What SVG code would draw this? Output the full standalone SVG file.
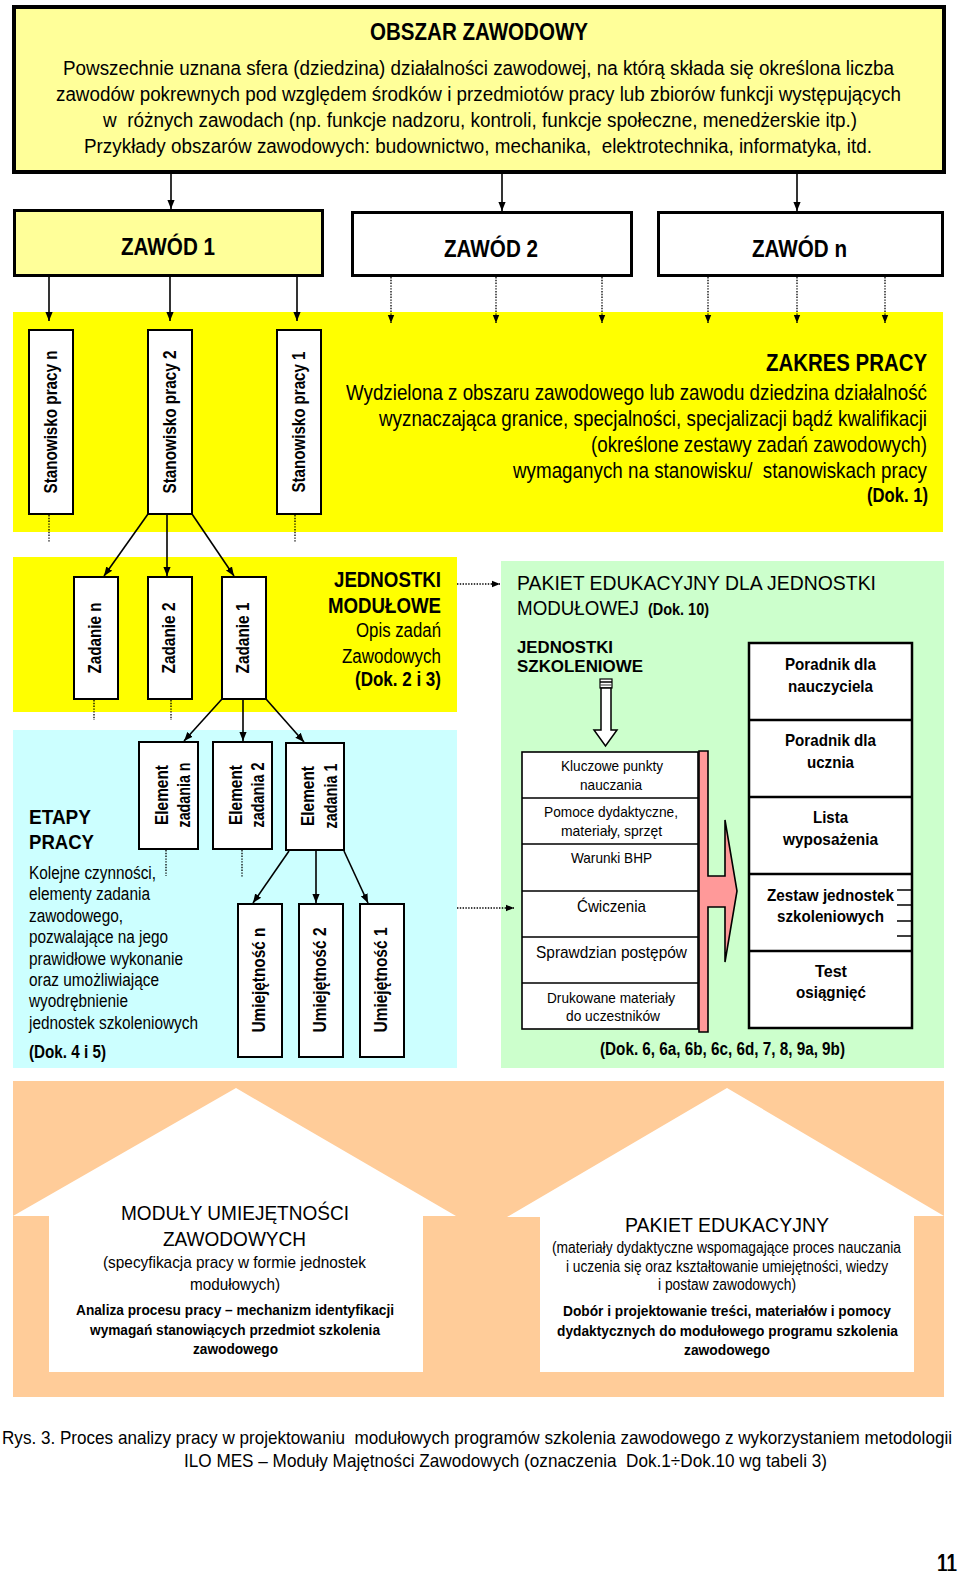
<svg xmlns="http://www.w3.org/2000/svg" width="960" height="1571" viewBox="0 0 960 1571">
<defs>
<style>
text{fill:#000;font-family:'Liberation Sans Narrow','Liberation Sans',Arial,sans-serif}
.r{font-family:'Liberation Sans',Arial,sans-serif}
.b{font-weight:bold}
.bx{fill:#fff;stroke:#000;stroke-width:2}
.ln{stroke:#000;stroke-width:1.6;fill:none}
.dt{stroke:#000;stroke-width:1.3;stroke-dasharray:1.4 1.4;fill:none}
.rot{font-weight:bold;font-size:19px;text-anchor:middle}
</style>
<marker id="ah" viewBox="0 0 10 10" refX="10" refY="5" markerWidth="9" markerHeight="9" markerUnits="userSpaceOnUse" orient="auto"><path d="M0,1 L10,5 L0,9 Z" fill="#000"/></marker>
<marker id="ahs" viewBox="0 0 10 10" refX="10" refY="5" markerWidth="8" markerHeight="8" markerUnits="userSpaceOnUse" orient="auto"><path d="M0,1 L10,5 L0,9 Z" fill="#000"/></marker>
</defs>
<rect width="960" height="1571" fill="#fff"/>

<g id="bands">
<rect x="13" y="312" width="930" height="220" fill="#FFFF00"/>
<rect x="13" y="557" width="444" height="155" fill="#FFFF00"/>
<rect x="13" y="730" width="444" height="338" fill="#CCFFFF"/>
<rect x="501" y="561" width="443" height="507" fill="#CCFFCC"/>
<rect x="13" y="1081" width="931" height="316" fill="#FFCC99"/>
</g>

<g id="obszar">
<rect x="14" y="7" width="930" height="165" fill="#FFFF99" stroke="#000" stroke-width="4"/>
<text class="b" x="370" y="40" font-size="23" textLength="218" lengthAdjust="spacingAndGlyphs">OBSZAR ZAWODOWY</text>
<text x="63" y="75" font-size="20" textLength="831" lengthAdjust="spacingAndGlyphs">Powszechnie uznana sfera (dziedzina) działalności zawodowej, na którą składa się określona liczba</text>
<text x="56" y="101" font-size="20" textLength="845" lengthAdjust="spacingAndGlyphs">zawodów pokrewnych pod względem środków i przedmiotów pracy lub zbiorów funkcji występujących</text>
<text x="103" y="127" font-size="20" textLength="754" lengthAdjust="spacingAndGlyphs" xml:space="preserve">w  różnych zawodach (np. funkcje nadzoru, kontroli, funkcje społeczne, menedżerskie itp.)</text>
<text x="84" y="153" font-size="20" textLength="788" lengthAdjust="spacingAndGlyphs" xml:space="preserve">Przykłady obszarów zawodowych: budownictwo, mechanika,  elektrotechnika, informatyka, itd.</text>
</g>

<g id="zawod1">
<rect x="14.5" y="210.5" width="308" height="65" fill="#FFFF99" stroke="#000" stroke-width="3"/>
<text class="b" x="121" y="255" font-size="23" textLength="94" lengthAdjust="spacingAndGlyphs">ZAWÓD 1</text>
</g>
<g id="zawod2">
<rect x="352.5" y="212.5" width="279" height="63" fill="#fff" stroke="#000" stroke-width="3"/>
<text class="b" x="444" y="257" font-size="23" textLength="94" lengthAdjust="spacingAndGlyphs">ZAWÓD 2</text>
</g>
<g id="zawodn">
<rect x="658.5" y="212.5" width="284" height="63" fill="#fff" stroke="#000" stroke-width="3"/>
<text class="b" x="752" y="257" font-size="23" textLength="95" lengthAdjust="spacingAndGlyphs">ZAWÓD n</text>
</g>

<g id="zakres">
<text class="b" x="766" y="371" font-size="24" textLength="161" lengthAdjust="spacingAndGlyphs">ZAKRES PRACY</text>
<text x="346" y="400" font-size="22" textLength="581" lengthAdjust="spacingAndGlyphs">Wydzielona z obszaru zawodowego lub zawodu dziedzina działalność</text>
<text x="379" y="426" font-size="22" textLength="548" lengthAdjust="spacingAndGlyphs">wyznaczająca granice, specjalności, specjalizacji bądź kwalifikacji</text>
<text x="591" y="452" font-size="22" textLength="336" lengthAdjust="spacingAndGlyphs">(określone zestawy zadań zawodowych)</text>
<text x="513" y="478" font-size="22" textLength="414" lengthAdjust="spacingAndGlyphs" xml:space="preserve">wymaganych na stanowisku/  stanowiskach pracy</text>
<text class="b" x="867" y="502" font-size="20" textLength="61" lengthAdjust="spacingAndGlyphs">(Dok. 1)</text>
</g>

<g id="stanowisko-n">
<rect class="bx" x="29" y="330" width="44" height="184"/>
<text class="rot" transform="translate(56.5,422) rotate(-90)" textLength="143" lengthAdjust="spacingAndGlyphs">Stanowisko pracy n</text>
</g>
<g id="stanowisko-2">
<rect class="bx" x="148" y="330" width="44" height="184"/>
<text class="rot" transform="translate(175.5,422) rotate(-90)" textLength="143" lengthAdjust="spacingAndGlyphs">Stanowisko pracy 2</text>
</g>
<g id="stanowisko-1">
<rect class="bx" x="277" y="330" width="44" height="184"/>
<text class="rot" transform="translate(304.5,422) rotate(-90)" textLength="141" lengthAdjust="spacingAndGlyphs">Stanowisko pracy 1</text>
</g>

<g id="jednostki-modulowe">
<text class="b" x="334" y="587" font-size="22" textLength="107" lengthAdjust="spacingAndGlyphs">JEDNOSTKI</text>
<text class="b" x="328" y="613" font-size="22" textLength="113" lengthAdjust="spacingAndGlyphs">MODUŁOWE</text>
<text x="356" y="637" font-size="20" textLength="85" lengthAdjust="spacingAndGlyphs">Opis zadań</text>
<text x="342" y="663" font-size="20" textLength="99" lengthAdjust="spacingAndGlyphs">Zawodowych</text>
<text class="b" x="355" y="686" font-size="20" textLength="86" lengthAdjust="spacingAndGlyphs">(Dok. 2 i 3)</text>
</g>

<g id="zadanie-n">
<rect class="bx" x="74" y="577" width="44" height="122"/>
<text class="rot" transform="translate(101,638) rotate(-90)" textLength="71" lengthAdjust="spacingAndGlyphs">Zadanie n</text>
</g>
<g id="zadanie-2">
<rect class="bx" x="148" y="577" width="44" height="122"/>
<text class="rot" transform="translate(175,638) rotate(-90)" textLength="71" lengthAdjust="spacingAndGlyphs">Zadanie 2</text>
</g>
<g id="zadanie-1">
<rect class="bx" x="222" y="577" width="44" height="122"/>
<text class="rot" transform="translate(249,638) rotate(-90)" textLength="71" lengthAdjust="spacingAndGlyphs">Zadanie 1</text>
</g>

<g id="etapy">
<text class="b" x="29" y="824" font-size="21" textLength="62" lengthAdjust="spacingAndGlyphs">ETAPY</text>
<text class="b" x="29" y="849" font-size="21" textLength="65" lengthAdjust="spacingAndGlyphs">PRACY</text>
<text x="29" y="879" font-size="18" textLength="127" lengthAdjust="spacingAndGlyphs">Kolejne czynności,</text>
<text x="29" y="900" font-size="18" textLength="121" lengthAdjust="spacingAndGlyphs">elementy zadania</text>
<text x="29" y="922" font-size="18" textLength="94" lengthAdjust="spacingAndGlyphs">zawodowego,</text>
<text x="29" y="943" font-size="18" textLength="139" lengthAdjust="spacingAndGlyphs">pozwalające na jego</text>
<text x="29" y="965" font-size="18" textLength="154" lengthAdjust="spacingAndGlyphs">prawidłowe wykonanie</text>
<text x="29" y="986" font-size="18" textLength="130" lengthAdjust="spacingAndGlyphs">oraz umożliwiające</text>
<text x="29" y="1007" font-size="18" textLength="99" lengthAdjust="spacingAndGlyphs">wyodrębnienie</text>
<text x="29" y="1029" font-size="18" textLength="169" lengthAdjust="spacingAndGlyphs">jednostek szkoleniowych</text>
<text class="b" x="29" y="1058" font-size="18" textLength="77" lengthAdjust="spacingAndGlyphs">(Dok. 4 i 5)</text>
</g>

<g id="element-n">
<rect class="bx" x="139" y="742" width="59" height="107"/>
<text class="rot" transform="translate(168.5,795) rotate(-90)"><tspan x="0" y="-1" textLength="60" lengthAdjust="spacingAndGlyphs">Element</tspan><tspan x="0" y="21.5" textLength="65" lengthAdjust="spacingAndGlyphs">zadania n</tspan></text>
</g>
<g id="element-2">
<rect class="bx" x="213" y="742" width="59" height="107"/>
<text class="rot" transform="translate(242.5,795) rotate(-90)"><tspan x="0" y="-1" textLength="60" lengthAdjust="spacingAndGlyphs">Element</tspan><tspan x="0" y="21.5" textLength="65" lengthAdjust="spacingAndGlyphs">zadania 2</tspan></text>
</g>
<g id="element-1">
<rect class="bx" x="286" y="743" width="58" height="107"/>
<text class="rot" transform="translate(315,796) rotate(-90)"><tspan x="0" y="-1" textLength="60" lengthAdjust="spacingAndGlyphs">Element</tspan><tspan x="0" y="21.5" textLength="65" lengthAdjust="spacingAndGlyphs">zadania 1</tspan></text>
</g>

<g id="umiejetnosc-n">
<rect class="bx" x="238" y="904" width="44" height="153"/>
<text class="rot" transform="translate(265,980) rotate(-90)" textLength="105" lengthAdjust="spacingAndGlyphs">Umiejętność n</text>
</g>
<g id="umiejetnosc-2">
<rect class="bx" x="299" y="904" width="44" height="153"/>
<text class="rot" transform="translate(326,980) rotate(-90)" textLength="105" lengthAdjust="spacingAndGlyphs">Umiejętność 2</text>
</g>
<g id="umiejetnosc-1">
<rect class="bx" x="360" y="904" width="44" height="153"/>
<text class="rot" transform="translate(387,980) rotate(-90)" textLength="105" lengthAdjust="spacingAndGlyphs">Umiejętność 1</text>
</g>

<g id="pakiet-jednostki">
<text class="r" x="517" y="590" font-size="21" textLength="359" lengthAdjust="spacingAndGlyphs">PAKIET EDUKACYJNY DLA JEDNOSTKI</text>
<text class="r" x="517" y="615" font-size="21" textLength="122" lengthAdjust="spacingAndGlyphs">MODUŁOWEJ</text>
<text class="r b" x="648" y="615" font-size="16" textLength="61" lengthAdjust="spacingAndGlyphs">(Dok. 10)</text>
<text class="r b" x="517" y="653" font-size="17" textLength="96" lengthAdjust="spacingAndGlyphs">JEDNOSTKI</text>
<text class="r b" x="517" y="672" font-size="17" textLength="126" lengthAdjust="spacingAndGlyphs">SZKOLENIOWE</text>
<text class="r b" x="600" y="1055" font-size="18" textLength="245" lengthAdjust="spacingAndGlyphs">(Dok. 6, 6a, 6b, 6c, 6d, 7, 8, 9a, 9b)</text>
</g>

<g id="hollow-arrow">
<rect x="600" y="679" width="12" height="9" fill="#fff" stroke="#000" stroke-width="1.2"/>
<line x1="600" y1="682" x2="612" y2="682" stroke="#000" stroke-width="1.5"/>
<line x1="600" y1="685" x2="612" y2="685" stroke="#555" stroke-width="1.2"/>
<path d="M601,688 L611,688 L611,730 L617,730 L605.5,746 L594,730 L601,730 Z" fill="#fff" stroke="#000" stroke-width="1.5"/>
</g>

<g id="jednostki-szkoleniowe-lista">
<rect x="522" y="752" width="176" height="277" fill="#fff" stroke="#000" stroke-width="1.6"/>
<path d="M522,798 H698 M522,844 H698 M522,891 H698 M522,937 H698 M522,983 H698" stroke="#000" stroke-width="1.6"/>
<text class="r" x="561" y="771" font-size="15" textLength="102" lengthAdjust="spacingAndGlyphs">Kluczowe punkty</text>
<text class="r" x="580" y="790" font-size="15" textLength="62" lengthAdjust="spacingAndGlyphs">nauczania</text>
<text class="r" x="544" y="817" font-size="15" textLength="134" lengthAdjust="spacingAndGlyphs">Pomoce dydaktyczne,</text>
<text class="r" x="561" y="836" font-size="15" textLength="101" lengthAdjust="spacingAndGlyphs">materiały, sprzęt</text>
<text class="r" x="571" y="863" font-size="15" textLength="81" lengthAdjust="spacingAndGlyphs">Warunki BHP</text>
<text class="r" x="577" y="912" font-size="17" textLength="69" lengthAdjust="spacingAndGlyphs">Ćwiczenia</text>
<text class="r" x="536" y="958" font-size="17" textLength="151" lengthAdjust="spacingAndGlyphs">Sprawdzian postępów</text>
<text class="r" x="547" y="1003" font-size="15" textLength="128" lengthAdjust="spacingAndGlyphs">Drukowane materiały</text>
<text class="r" x="566" y="1021" font-size="15" textLength="94" lengthAdjust="spacingAndGlyphs">do uczestników</text>
</g>

<g id="pink-arrow">
<path d="M699,751 L708,751 L708,876 L725,876 L725,820 L737,891 L725,962 L725,907 L708,907 L708,1032 L699,1032 Z" fill="#FF9999" stroke="#000" stroke-width="1.6" stroke-linejoin="miter"/>
</g>

<g id="pakiet-elementy">
<rect x="749" y="643" width="163" height="385" fill="#fff" stroke="#000" stroke-width="2.5"/>
<path d="M749,720 H912 M749,797 H912 M749,874 H912 M749,951 H912" stroke="#000" stroke-width="2.5"/>
<path d="M897,890 H912 M897,905 H912 M897,921 H912 M897,936 H912" stroke="#000" stroke-width="1.5"/>
<text class="r b" x="785" y="670" font-size="17" textLength="91" lengthAdjust="spacingAndGlyphs">Poradnik dla</text>
<text class="r b" x="788" y="692" font-size="17" textLength="85" lengthAdjust="spacingAndGlyphs">nauczyciela</text>
<text class="r b" x="785" y="746" font-size="17" textLength="91" lengthAdjust="spacingAndGlyphs">Poradnik dla</text>
<text class="r b" x="807" y="768" font-size="17" textLength="47" lengthAdjust="spacingAndGlyphs">ucznia</text>
<text class="r b" x="813" y="823" font-size="17" textLength="35" lengthAdjust="spacingAndGlyphs">Lista</text>
<text class="r b" x="783" y="845" font-size="17" textLength="95" lengthAdjust="spacingAndGlyphs">wyposażenia</text>
<text class="r b" x="767" y="901" font-size="17" textLength="127" lengthAdjust="spacingAndGlyphs">Zestaw jednostek</text>
<text class="r b" x="777" y="922" font-size="17" textLength="107" lengthAdjust="spacingAndGlyphs">szkoleniowych</text>
<text class="r b" x="815" y="977" font-size="17" textLength="32" lengthAdjust="spacingAndGlyphs">Test</text>
<text class="r b" x="796" y="998" font-size="17" textLength="70" lengthAdjust="spacingAndGlyphs">osiągnięć</text>
</g>

<g id="dom-moduly">
<path d="M236,1088 L456,1216 L423,1216 L423,1372 L49,1372 L49,1216 L13,1216 Z" fill="#fff"/>
<text x="121" y="1220" font-size="21" textLength="228" lengthAdjust="spacingAndGlyphs">MODUŁY UMIEJĘTNOŚCI</text>
<text x="163" y="1246" font-size="21" textLength="143" lengthAdjust="spacingAndGlyphs">ZAWODOWYCH</text>
<text x="103" y="1268" font-size="17" textLength="263" lengthAdjust="spacingAndGlyphs">(specyfikacja pracy w formie jednostek</text>
<text x="190" y="1290" font-size="17" textLength="90" lengthAdjust="spacingAndGlyphs">modułowych)</text>
<text class="b" x="76" y="1315" font-size="15" textLength="318" lengthAdjust="spacingAndGlyphs">Analiza procesu pracy – mechanizm identyfikacji</text>
<text class="b" x="90" y="1335" font-size="15" textLength="290" lengthAdjust="spacingAndGlyphs">wymagań stanowiących przedmiot szkolenia</text>
<text class="b" x="193" y="1354" font-size="15" textLength="85" lengthAdjust="spacingAndGlyphs">zawodowego</text>
</g>

<g id="dom-pakiet">
<path d="M727,1088 L944,1216 L914,1216 L914,1372 L540,1372 L540,1217 L507,1217 Z" fill="#fff"/>
<text x="625" y="1232" font-size="21" textLength="204" lengthAdjust="spacingAndGlyphs">PAKIET EDUKACYJNY</text>
<text x="552" y="1253" font-size="16" textLength="349" lengthAdjust="spacingAndGlyphs">(materiały dydaktyczne wspomagające proces nauczania</text>
<text x="566" y="1272" font-size="16" textLength="322" lengthAdjust="spacingAndGlyphs">i uczenia się oraz kształtowanie umiejętności, wiedzy</text>
<text x="658" y="1290" font-size="16" textLength="138" lengthAdjust="spacingAndGlyphs">i postaw zawodowych)</text>
<text class="b" x="563" y="1316" font-size="15" textLength="328" lengthAdjust="spacingAndGlyphs">Dobór i projektowanie treści, materiałów i pomocy</text>
<text class="b" x="557" y="1336" font-size="15" textLength="341" lengthAdjust="spacingAndGlyphs">dydaktycznych do modułowego programu szkolenia</text>
<text class="b" x="684" y="1355" font-size="15" textLength="86" lengthAdjust="spacingAndGlyphs">zawodowego</text>
</g>

<g id="connectors">
<line class="ln" x1="171" y1="174" x2="171" y2="209" marker-end="url(#ah)"/>
<line class="ln" x1="502" y1="174" x2="502" y2="211" marker-end="url(#ah)"/>
<line class="ln" x1="797" y1="174" x2="797" y2="211" marker-end="url(#ah)"/>
<line class="ln" x1="49" y1="277" x2="49" y2="321" marker-end="url(#ah)"/>
<line class="ln" x1="170" y1="277" x2="170" y2="321" marker-end="url(#ah)"/>
<line class="ln" x1="297" y1="277" x2="297" y2="321" marker-end="url(#ah)"/>
<line class="dt" x1="391" y1="277" x2="391" y2="323" marker-end="url(#ahs)"/>
<line class="dt" x1="496" y1="277" x2="496" y2="323" marker-end="url(#ahs)"/>
<line class="dt" x1="602" y1="277" x2="602" y2="323" marker-end="url(#ahs)"/>
<line class="dt" x1="708" y1="277" x2="708" y2="323" marker-end="url(#ahs)"/>
<line class="dt" x1="797" y1="277" x2="797" y2="323" marker-end="url(#ahs)"/>
<line class="dt" x1="885" y1="277" x2="885" y2="323" marker-end="url(#ahs)"/>
<line class="dt" x1="49" y1="515" x2="49" y2="543"/>
<line class="dt" x1="295" y1="515" x2="295" y2="543"/>
<line class="ln" x1="148" y1="514" x2="104" y2="576" marker-end="url(#ah)"/>
<line class="ln" x1="167" y1="514" x2="167" y2="576" marker-end="url(#ah)"/>
<line class="ln" x1="192" y1="514" x2="234" y2="576" marker-end="url(#ah)"/>
<line class="dt" x1="94" y1="700" x2="94" y2="720"/>
<line class="dt" x1="171" y1="700" x2="171" y2="720"/>
<line class="ln" x1="222" y1="699" x2="184" y2="741" marker-end="url(#ah)"/>
<line class="ln" x1="243" y1="699" x2="243" y2="741" marker-end="url(#ah)"/>
<line class="ln" x1="266" y1="699" x2="304" y2="742" marker-end="url(#ah)"/>
<line class="dt" x1="166" y1="850" x2="166" y2="876"/>
<line class="dt" x1="242" y1="850" x2="242" y2="877"/>
<line class="ln" x1="289" y1="851" x2="253" y2="903" marker-end="url(#ah)"/>
<line class="ln" x1="316" y1="851" x2="316" y2="903" marker-end="url(#ah)"/>
<line class="ln" x1="344" y1="851" x2="368" y2="903" marker-end="url(#ah)"/>
<line class="dt" x1="457" y1="584" x2="500" y2="584" marker-end="url(#ahs)"/>
<line class="dt" x1="457" y1="908" x2="514" y2="908" marker-end="url(#ahs)"/>
</g>

<g id="caption">
<text x="2" y="1444" font-size="19" textLength="950" lengthAdjust="spacingAndGlyphs" xml:space="preserve">Rys. 3. Proces analizy pracy w projektowaniu  modułowych programów szkolenia zawodowego z wykorzystaniem metodologii</text>
<text x="184" y="1467" font-size="19" textLength="643" lengthAdjust="spacingAndGlyphs" xml:space="preserve">ILO MES – Moduły Majętności Zawodowych (oznaczenia  Dok.1÷Dok.10 wg tabeli 3)</text>
<text class="b" x="937" y="1572" font-size="26" textLength="20" lengthAdjust="spacingAndGlyphs">11</text>
</g>
</svg>
